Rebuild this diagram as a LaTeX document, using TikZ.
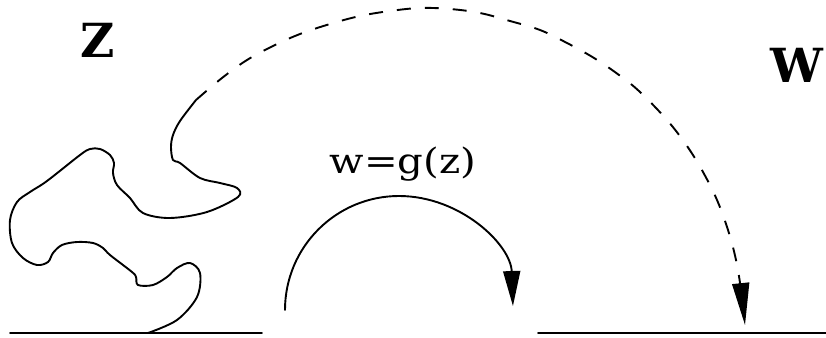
\documentclass[tikz,border=0pt]{standalone}
\usepackage{fontspec}
\setmainfont{DejaVu Serif}
\usetikzlibrary{arrows.meta}
\tikzset{
  curve/.style={line width=1.9pt, line cap=round, line join=round},
  dashcurve/.style={line width=1.9pt, line join=round, dash pattern=on 14pt off 14pt},
  bigletter/.style={font=\fontsize{47}{50}\selectfont\bfseries, inner sep=0pt, anchor=base},
  maplabel/.style={font=\fontsize{35}{40}\selectfont, inner sep=0pt, anchor=base, xscale=1.15},
}
\begin{document}
\begin{tikzpicture}[x=1pt,y=-1pt]
\useasboundingbox (0,0) rectangle (826,337);
% base lines
\draw[curve] (10,333) -- (262,333);
\draw[curve] (538,333) -- (826,333);
% labels
\node[bigletter] (Z) at (98,57) {Z};
\node[bigletter] (W) at (797,82) {W};
\node[maplabel] (map) at (403,173) {w=g(z)};
% blob
\draw[curve] plot[smooth, tension=0.55] coordinates {
 (148,333) (177,320) (197,297) (200,273) (190,263) (177,268) (167,277)
 (153,285) (138,285) (136,277) (132,272) (110,255) (103,248) (93,243)
 (77,242) (62,245) (53,253) (48,262) (37,265) (23,258) (12,243) (10,220)
 (17,202) (30,192) (47,181) (80,155) (90,149) (100,149) (110,155) (114,163)
 (113,173) (117,185) (130,198) (143,213) (170,218) (207,212) (238,197) (237,188) (220,183)
 (200,178) (180,163) (173,160) (171,147) (173,135) (180,121) (196,100)};
% dashed mapping arrow
\draw[dashcurve, -{Triangle[length=42pt,width=17pt]}] plot[smooth, tension=0.6] coordinates {
 (196,100) (222,78) (247,60) (273,46) (300,34) (330,24) (360,16) (390,11)
 (420,8) (450,9) (480,13) (510,21) (540,30) (567,43) (594,58) (619,75)
 (640,92) (667,120) (687,146) (703,172) (717,200) (728,230) (736,260) (741,290) (745,325)};
% semicircle map arrow
\draw[curve, -{Triangle[length=35pt,width=17pt]}] (285,310) arc[start angle=180, end angle=358, x radius=114, y radius=114];
\end{tikzpicture}
\end{document}
